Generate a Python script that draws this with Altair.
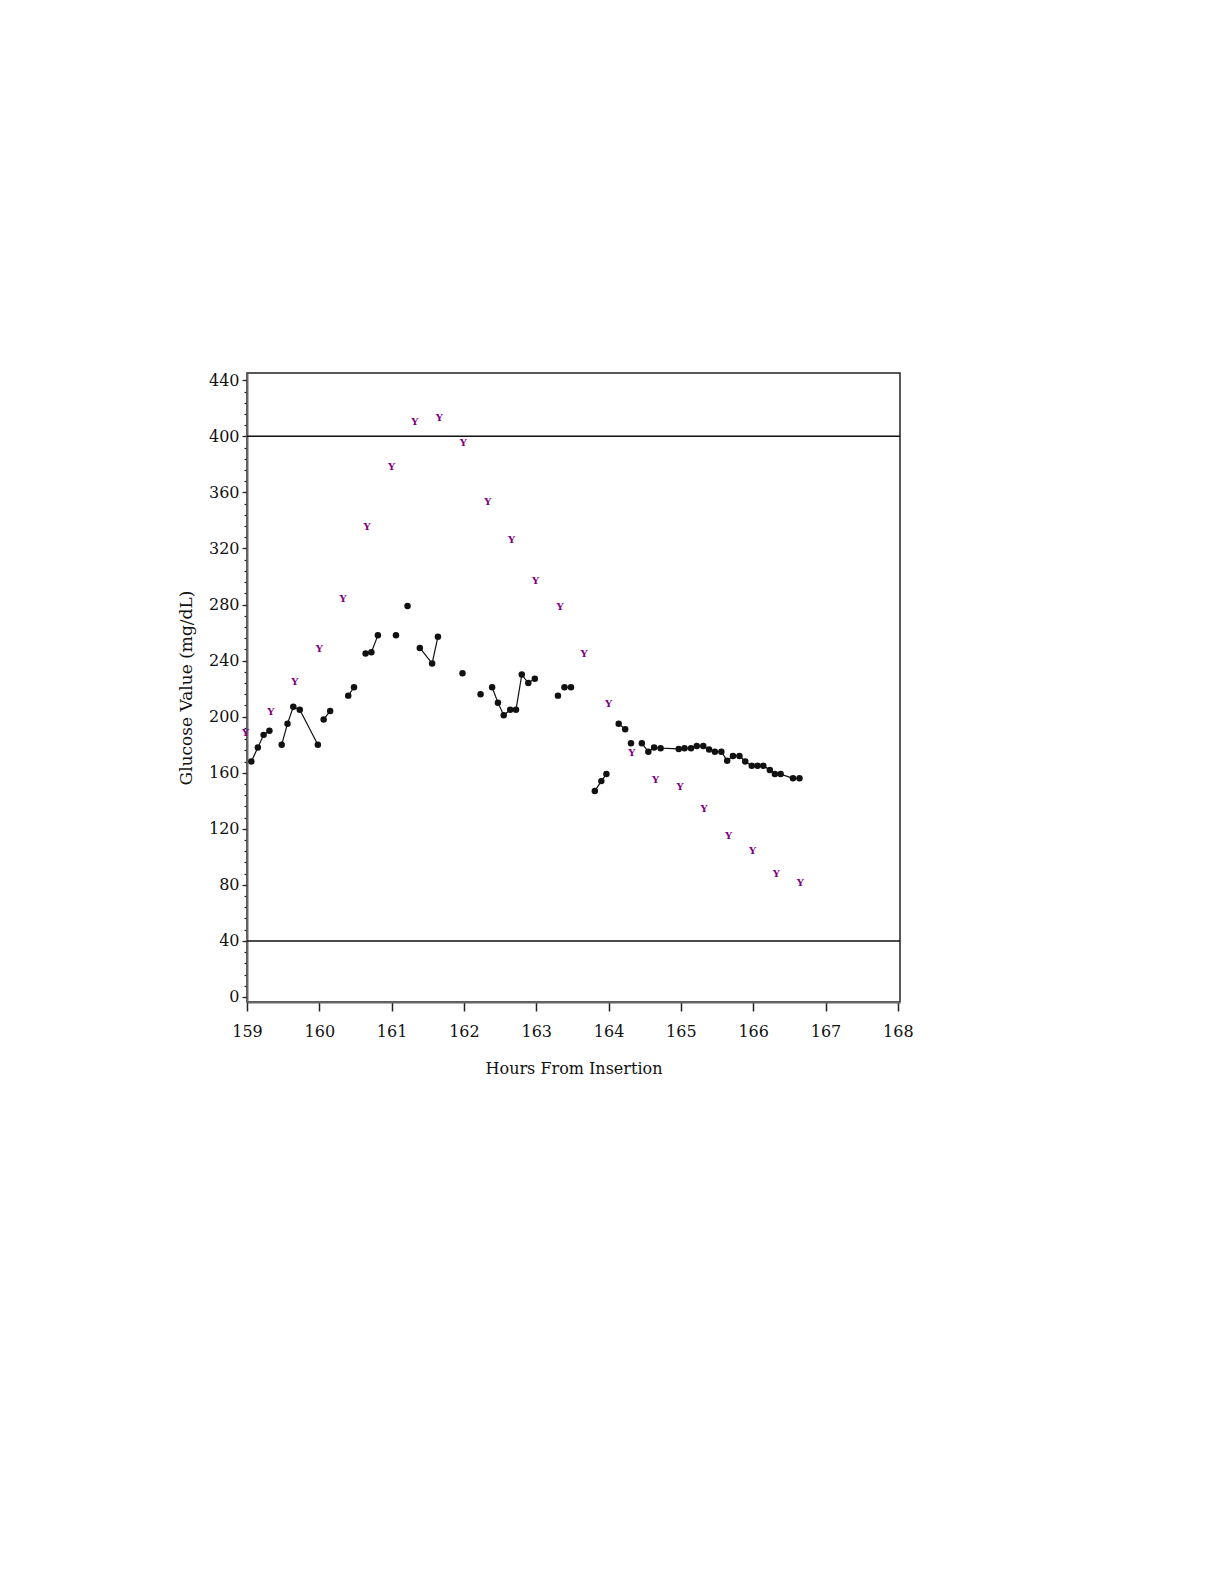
import altair as alt
import pandas as pd

# Reference ("Y") readings
ref_hours = [158.98, 159.33, 159.66, 160.0, 160.33, 160.66, 161.0, 161.32, 161.66, 161.99,
             162.33, 162.66, 162.99, 163.33, 163.66, 164.0, 164.32, 164.65, 164.99, 165.32,
             165.66, 165.99, 166.32, 166.65]
ref_values = [188, 203, 225, 248, 284, 335, 378, 410, 413, 395,
              353, 326, 297, 278, 245, 209, 174, 155, 150, 134,
              115, 104, 88, 81]

# Sensor readings, grouped into connected segments
sensor_hours = [
    159.06, 159.15, 159.23, 159.31,
    159.48, 159.56, 159.64, 159.73, 159.98,
    160.06, 160.15,
    160.40, 160.48,
    160.64, 160.72, 160.81,
    161.06,
    161.22,
    161.39, 161.56, 161.64,
    161.98,
    162.23,
    162.39, 162.47, 162.55, 162.64, 162.72, 162.80, 162.89, 162.98,
    163.30,
    163.39, 163.48,
    163.81, 163.90, 163.97,
    164.14, 164.23,
    164.31,
    164.46, 164.55, 164.63, 164.72, 164.97, 165.05, 165.14, 165.22, 165.31, 165.39,
    165.47, 165.56, 165.64, 165.72, 165.81, 165.89, 165.98, 166.06, 166.14, 166.23,
    166.30, 166.38, 166.55, 166.64,
]
sensor_values = [
    168, 178, 187, 190,
    180, 195, 207, 205, 180,
    198, 204,
    215, 221,
    245, 246, 258,
    258,
    279,
    249, 238, 257,
    231,
    216,
    221, 210, 201, 205, 205, 230, 224, 227,
    215,
    221, 221,
    147, 154, 159,
    195, 191,
    181,
    181, 175, 178, 177.5, 177, 177.5, 177.5, 179, 179, 176.6,
    175, 175, 168.5, 172, 172, 168, 165, 165, 165, 162,
    159, 159, 156, 156,
]
segment_sizes = [4, 5, 2, 2, 3, 1, 1, 3, 1, 1, 8, 1, 2, 3, 2, 1, 24]

limit_values = [40, 400]
x_ticks = list(range(159, 169))
y_ticks = list(range(0, 441, 40))
y_minor = list(range(0, 441, 8))

segments = []
for i, n in enumerate(segment_sizes):
    segments += [i] * n

sensor_df = pd.DataFrame({"hours": sensor_hours, "value": sensor_values, "seg": segments})
ref_df = pd.DataFrame({"hours": ref_hours, "value": ref_values})
limit_df = pd.DataFrame({"value": limit_values})

FONT = "DejaVu Serif"
x_scale = alt.Scale(domain=[159, 168.03], nice=False, zero=False)
y_scale = alt.Scale(domain=[-3.6, 445.2], nice=False, zero=False)

x_axis = alt.Axis(
    title="Hours From Insertion", values=x_ticks, format="d", grid=False,
    labelFlush=False, labelAlign="center",
    tickSize=9, tickColor="#222", tickWidth=1.5, domainColor="#666", domainWidth=2,
    labelFont=FONT, labelFontSize=16, labelColor="#111", labelPadding=12,
    titleFont=FONT, titleFontSize=16, titleFontWeight="normal", titleColor="#111",
    titlePadding=21,
)
y_axis = alt.Axis(
    title="Glucose Value (mg/dL)", values=y_ticks, format="d", grid=False, orient="left",
    labelFlush=False,
    tickSize=5, tickColor="#222", tickWidth=1.2, domainColor="#666", domainWidth=2,
    labelFont=FONT, labelFontSize=16, labelColor="#111", labelPadding=3,
    titleFont=FONT, titleFontSize=17, titleFontWeight="normal", titleColor="#111",
    titlePadding=13,
)
y_minor_axis = alt.Axis(
    values=y_minor, labels=False, title=None, domain=False, grid=False, orient="left",
    tickSize=3, tickColor="#222", tickWidth=1.2,
)

limits = alt.Chart(limit_df).mark_rule(color="#111", strokeWidth=1.5).encode(
    y=alt.Y("value:Q", scale=y_scale, axis=y_minor_axis),
)

lines = alt.Chart(sensor_df).mark_line(color="#111", strokeWidth=1.2).encode(
    x=alt.X("hours:Q", scale=x_scale, axis=x_axis),
    y=alt.Y("value:Q", scale=y_scale, axis=y_axis),
    detail="seg:N",
)

points = alt.Chart(sensor_df).mark_point(filled=True, color="#111", size=42, opacity=1).encode(
    x=alt.X("hours:Q", scale=x_scale, axis=None),
    y=alt.Y("value:Q", scale=y_scale, axis=None),
)

ref_marks = alt.Chart(ref_df).mark_text(
    text="Y", font=FONT, fontSize=10, fontWeight="bold", color="#800080",
    align="center", baseline="middle",
).encode(
    x=alt.X("hours:Q", scale=x_scale, axis=None),
    y=alt.Y("value:Q", scale=y_scale, axis=None),
)

chart = alt.layer(limits, lines, points, ref_marks).resolve_axis(
    x="independent", y="independent"
).properties(
    width=653, height=629,
    autosize=alt.AutoSizeParams(type="none"),
    padding={"left": 239, "top": 365, "right": 60, "bottom": 200},
).configure_view(stroke="#222", strokeWidth=1.5)

chart.save("out.html", embed_options={"renderer": "svg", "actions": False})
